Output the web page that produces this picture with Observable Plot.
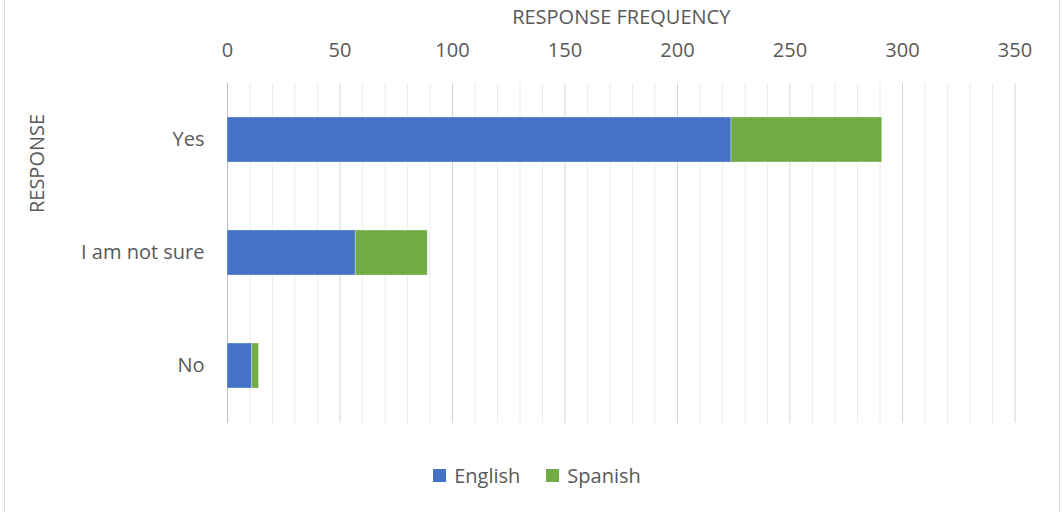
<!DOCTYPE html>
<html>
<head>
<meta charset="utf-8">
<script src="https://cdn.jsdelivr.net/npm/d3@7"></script>
<script src="https://cdn.jsdelivr.net/npm/@observablehq/plot@0.6"></script>
<style>
  body { margin: 0; background: #fff; font-family: "Open Sans", sans-serif; }
  #wrap { position: relative; width: 1062px; height: 512px; overflow: hidden; }
  #frame { position: absolute; left: 4px; top: -2px; width: 1054px; height: 516px; border-left: 1px solid #d9d9d9; border-right: 1px solid #d9d9d9; pointer-events: none; }
  #chart { position: absolute; left: 0; top: 0; }
  #legend { position: absolute; left: 0; top: 450px; width: 1062px; height: 50px; display: flex; justify-content: center; align-items: center; gap: 26px; font-size: 20px; color: #595959; padding-left: 12px; box-sizing: border-box; }
  .item { display: flex; align-items: center; gap: 8px; }
  .sw { width: 13px; height: 13px; display: inline-block; }
</style>
</head>
<body>
<div id="wrap">
  <div id="chart"></div>
  <div id="legend"></div>
  <div id="frame"></div>
</div>
<script>
const categories = ["Yes", "I am not sure", "No"];
const english = [224, 57, 11];
const spanish = [67, 32, 3];
const seriesNames = ["English", "Spanish"];
const seriesColors = ["#4472C4", "#70AD47"];
const majorTicks = [0, 50, 100, 150, 200, 250, 300, 350];
const minorTicks = d3.range(0, 351, 10).filter(v => v % 50 !== 0);

const rows = [];
categories.forEach((c, i) => {
  rows.push({response: c, language: "English", count: english[i]});
  rows.push({response: c, language: "Spanish", count: spanish[i]});
});

const textColor = "#595959";
const chart = Plot.plot({
  width: 1062,
  height: 450,
  marginTop: 83,
  marginBottom: 27,
  marginLeft: 227,
  marginRight: 47.5,
  style: {fontFamily: "Open Sans, sans-serif", fontSize: "20px", color: textColor, background: "transparent"},
  x: {domain: [0, 350], axis: null},
  y: {domain: categories, paddingInner: 0.6, paddingOuter: 0.3, axis: null},
  color: {domain: seriesNames, range: seriesColors},
  marks: [
    Plot.ruleX(minorTicks, {stroke: "#ececec", strokeWidth: 1}),
    Plot.ruleX(majorTicks.filter(v => v > 0), {stroke: "#d4d4d4", strokeWidth: 1}),
    Plot.ruleX([0], {stroke: "#bfbfbf", strokeWidth: 1}),
    Plot.barX(rows, Plot.stackX({x: "count", y: "response", fill: "language", order: seriesNames, stroke: "#ffffff", strokeOpacity: 0.4, strokeWidth: 0.75})),
    Plot.axisX(majorTicks, {anchor: "top", tickSize: 0, tickPadding: 27, fontSize: 20, fill: textColor, label: null}),
    Plot.axisY(categories, {anchor: "left", tickSize: 0, tickPadding: 23, fontSize: 20, fill: textColor, label: null}),
    Plot.text(["RESPONSE FREQUENCY"], {frameAnchor: "top", lineAnchor: "middle", dy: -66, fontSize: 20, fill: textColor}),
    Plot.text(["RESPONSE"], {frameAnchor: "left", textAnchor: "middle", lineAnchor: "middle", dx: -190, dy: -90, rotate: -90, fontSize: 20, fill: textColor})
  ]
});
document.getElementById("chart").appendChild(chart);

const legend = document.getElementById("legend");
seriesNames.forEach((n, i) => {
  const it = document.createElement("div");
  it.className = "item";
  it.innerHTML = `<span class="sw" style="background:${seriesColors[i]}"></span><span>${n}</span>`;
  legend.appendChild(it);
});
</script>
</body>
</html>
